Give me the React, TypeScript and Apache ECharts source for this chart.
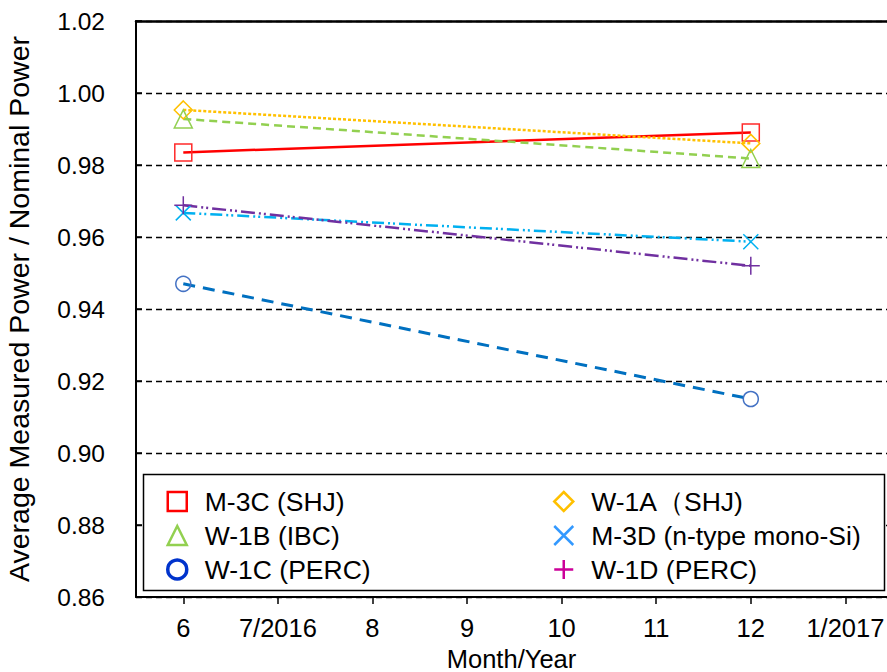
import React, { useEffect, useRef } from "react";
import * as echarts from "echarts";

const months = [6, 12];
const tickValues = [6, 7, 8, 9, 10, 11, 12, 13];
const tickLabels = ["6", "7/2016", "8", "9", "10", "11", "12", "1/2017"];

const m3c = [0.9835, 0.989];
const w1a = [0.9953, 0.986];
const w1b = [0.9928, 0.9818];
const m3d = [0.9667, 0.9587];
const w1d = [0.9688, 0.952];
const w1c = [0.947, 0.915];

const FONT = "Liberation Sans, Arial, sans-serif";
const X_PATH = "path://M0,0L10,10M10,0L0,10";
const PLUS_PATH = "path://M5,0L5,10M0,5L10,5";

const seriesDefs = [
  { name: "M-3C (SHJ)", values: m3c, color: "#ff0000", mColor: "#ff2a2a", symbol: "rect", size: 17, dash: "solid", legendColor: "#ff0000", lw: 2.5 },
  { name: "W-1A\uFF08SHJ)", values: w1a, color: "#ffc000", mColor: "#ffc000", symbol: "diamond", size: 18, dash: [3, 2], legendColor: "#ffc000", lw: 2.5 },
  { name: "W-1B (IBC)", values: w1b, color: "#92d050", mColor: "#92d050", symbol: "triangle", size: 18, dash: [8, 5], legendColor: "#92d050", lw: 2.5 },
  { name: "M-3D (n-type mono-Si)", values: m3d, color: "#00b0f0", mColor: "#00b0f0", symbol: X_PATH, size: 15, dash: [12, 4, 2, 3, 2, 4], legendColor: "#3399ff", lw: 2.5 },
  { name: "W-1C (PERC)", values: w1c, color: "#0070c0", mColor: "#4472c4", symbol: "circle", size: 15, dash: [12, 8], legendColor: "#0033cc", lw: 3 },
  { name: "W-1D (PERC)", values: w1d, color: "#7030a0", mColor: "#7030a0", symbol: PLUS_PATH, size: 18, dash: [14, 4, 2, 3, 2, 4], legendColor: "#cc0099", lw: 2.5 },
];

const legendCol1 = ["M-3C (SHJ)", "W-1B (IBC)", "W-1C (PERC)"];
const legendCol2 = ["W-1A\uFF08SHJ)", "M-3D (n-type mono-Si)", "W-1D (PERC)"];

export default function App() {
  const ref = useRef<HTMLDivElement>(null);
  useEffect(() => {
    if (!ref.current) return;
    const chart = echarts.init(ref.current, null, { renderer: "svg" });
    const legendItem = (name: string) => {
      const d = seriesDefs.find((s) => s.name === name)!;
      return {
        name,
        icon: d.symbol,
        itemStyle: {
          color: "transparent",
          borderColor: d.legendColor,
          borderWidth: d.symbol === "circle" ? 3.5 : 2.5,
        },
      };
    };
    const legendCommon = {
      orient: "vertical",
      padding: 0,
      itemGap: 7,
      itemWidth: 19,
      itemHeight: 19,
      selectedMode: false,
      z: 20,
      textStyle: {
        fontFamily: FONT,
        fontSize: 26.5,
        color: "#000",
        lineHeight: 26,
        padding: [0, 0, 0, 13],
      },
    };
    const option: any = {
      animation: false,
      backgroundColor: "#fff",
      grid: { left: 136, top: 21, right: 0, bottom: 75, containLabel: false, outerBoundsMode: "none" },
      xAxis: [
        {
          type: "value",
          min: 5.5,
          max: 13.44,
          name: "Month/Year",
          nameLocation: "middle",
          nameGap: 44,
          nameTextStyle: { fontFamily: FONT, fontSize: 25.5, color: "#000" },
          axisLine: { show: true, lineStyle: { color: "#000", width: 2 } },
          axisTick: { show: true, inside: false, length: 7, lineStyle: { color: "#000", width: 1.5 }, customValues: tickValues },
          axisLabel: {
            customValues: tickValues,
            formatter: (v: number) => tickLabels[tickValues.indexOf(Math.round(v))] ?? "",
            fontFamily: FONT,
            fontSize: 25.5,
            color: "#000",
            margin: 18,
          },
          splitLine: { show: false },
        },
        {
          type: "value",
          position: "top",
          min: 5.5,
          max: 13.44,
          axisLine: { show: true, lineStyle: { color: "#000", width: 2.5 } },
          axisTick: { show: false },
          axisLabel: { show: false },
          splitLine: { show: false },
        },
      ],
      yAxis: {
        type: "value",
        min: 0.86,
        max: 1.02,
        interval: 0.02,
        name: "Average Measured Power / Nominal Power",
        nameLocation: "middle",
        nameRotate: 90,
        nameGap: 103,
        nameTextStyle: { fontFamily: FONT, fontSize: 28.5, color: "#000" },
        axisLine: { show: true, lineStyle: { color: "#000", width: 2 } },
        axisTick: { show: true, inside: true, length: 6, lineStyle: { color: "#000", width: 1.5 } },
        axisLabel: {
          formatter: (v: number) => v.toFixed(2),
          fontFamily: FONT,
          fontSize: 24.5,
          color: "#000",
          margin: 31,
        },
        splitLine: { show: true, lineStyle: { color: "#000", width: 1.3, type: [6, 4] } },
      },
      legend: [
        { ...legendCommon, left: 166, top: 488, data: legendCol1.map(legendItem) },
        { ...legendCommon, left: 553, top: 488, data: legendCol2.map(legendItem) },
      ],
      graphic: [
        {
          type: "rect",
          z: 2,
          shape: { x: 143.5, y: 474.5, width: 741, height: 116 },
          style: { fill: "#fff", stroke: "#000", lineWidth: 1.5 },
        },
      ],
      series: seriesDefs.map((d) => ({
        type: "line",
        name: d.name,
        data: months.map((m, i) => [m, d.values[i]]),
        symbol: d.symbol,
        symbolSize: d.size,
        showAllSymbol: true,
        lineStyle: { color: d.color, width: d.lw, type: d.dash },
        itemStyle: { color: "transparent", borderColor: d.mColor, borderWidth: 1.5 },
        emphasis: { disabled: true },
        z: 3,
      })),
    };
    chart.setOption(option);
    return () => chart.dispose();
  }, []);
  return (
    <div
      ref={ref}
      style={{ position: "absolute", left: 0, top: 0, width: 887, height: 672 }}
    />
  );
}
